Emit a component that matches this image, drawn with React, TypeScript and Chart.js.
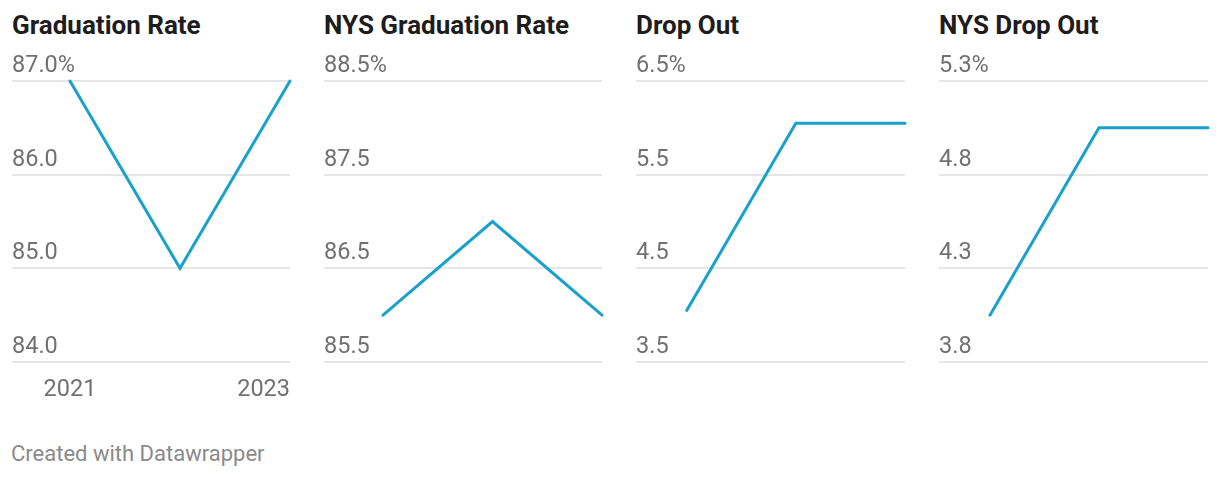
import React, { useEffect, useRef } from 'react';
import { Chart, registerables } from 'chart.js';

Chart.register(...registerables);

// ---- data ----
const years = [2021, 2022, 2023];
const yearTickValues = [2021, 2023];
const yearTickLabels = ['2021', '2023'];

const titles = ['Graduation Rate', 'NYS Graduation Rate', 'Drop Out', 'NYS Drop Out'];

const gradRate = [87.0, 85.0, 87.0];
const nysGradRate = [86.0, 87.0, 86.0];
const dropOut = [4.05, 6.05, 6.05];
const nysDropOut = [4.0, 5.0, 5.0];

const gradTicks = [84, 85, 86, 87];
const gradTickLabels = ['84.0', '85.0', '86.0', '87.0%'];
const nysGradTicks = [85.5, 86.5, 87.5, 88.5];
const nysGradTickLabels = ['85.5', '86.5', '87.5', '88.5%'];
const dropTicks = [3.5, 4.5, 5.5, 6.5];
const dropTickLabels = ['3.5', '4.5', '5.5', '6.5%'];
const nysDropTicks = [3.75, 4.25, 4.75, 5.25];
const nysDropTickLabels = ['3.8', '4.3', '4.8', '5.3%'];

const footerText = 'Created with Datawrapper';

// ---- layout / style ----
const LINE_COLOR = '#18a1cd';
const TICK_COLOR = '#717171';
const GRID_COLOR = '#e6e6e6';
const FONT = 'Roboto, "Noto Sans", sans-serif';
const TICK_SIZE = 23.5;
const CANVAS_TOP = 40;
const CANVAS_H = 370;

type PanelProps = {
  title: string;
  values: number[];
  ticks: number[];
  tickLabels: string[];
  left: number;
  width: number;
  xPad: number;
  showYears: boolean;
};

function Panel({ title, values, ticks, tickLabels, left, width, xPad, showYears }: PanelProps) {
  const ref = useRef<HTMLCanvasElement>(null);

  useEffect(() => {
    if (!ref.current) return;
    const yearPlugin = {
      id: 'yearLabels',
      afterDraw(chart: any) {
        if (!showYears) return;
        const ctx = chart.ctx;
        const xs = chart.scales.x;
        ctx.save();
        ctx.font = `${TICK_SIZE}px ${FONT}`;
        ctx.fillStyle = TICK_COLOR;
        ctx.textBaseline = 'alphabetic';
        yearTickValues.forEach((v, i) => {
          const last = i === yearTickValues.length - 1;
          ctx.textAlign = last ? 'right' : 'center';
          ctx.fillText(yearTickLabels[i], xs.getPixelForValue(v), chart.chartArea.bottom + 34);
        });
        ctx.restore();
      },
    };

    const chart = new Chart(ref.current, {
      type: 'line',
      data: {
        datasets: [
          {
            data: years.map((y, i) => ({ x: y, y: values[i] })),
            borderColor: LINE_COLOR,
            borderWidth: 3,
            pointRadius: 0,
            pointHoverRadius: 0,
            tension: 0,
            clip: false as any,
            borderCapStyle: 'round',
            borderJoinStyle: 'miter',
          },
        ],
      },
      options: {
        animation: false,
        responsive: false,
        events: [],
        layout: { padding: { top: 41, bottom: 48, left: 0, right: 4 } },
        plugins: { legend: { display: false }, tooltip: { enabled: false }, title: { display: false } },
        scales: {
          x: {
            type: 'linear',
            display: false,
            min: years[0] - xPad,
            max: years[years.length - 1],
          },
          y: {
            type: 'linear',
            min: ticks[0],
            max: ticks[ticks.length - 1],
            border: { display: false },
            grid: { color: GRID_COLOR, lineWidth: 2, drawTicks: false },
            afterBuildTicks: (s: any) => {
              s.ticks = ticks.map((v) => ({ value: v }));
            },
            ticks: {
              mirror: true,
              padding: 0,
              labelOffset: -15,
              color: TICK_COLOR,
              font: { family: FONT, size: TICK_SIZE },
              callback: (_v: any, i: number) => tickLabels[i],
            },
          },
        },
      } as any,
      plugins: [yearPlugin],
    });
    return () => chart.destroy();
  }, []);

  return (
    <>
      <div
        style={{
          position: 'absolute',
          left,
          top: 12,
          font: `bold 26px/26px ${FONT}`,
          color: '#1d1d1d',
          whiteSpace: 'nowrap',
        }}
      >
        {title}
      </div>
      <canvas
        ref={ref}
        width={width + 4}
        height={CANVAS_H}
        style={{ position: 'absolute', left, top: CANVAS_TOP, width: width + 4, height: CANVAS_H }}
      />
    </>
  );
}

export default function App() {
  const panels = [
    { values: gradRate, ticks: gradTicks, tickLabels: gradTickLabels, left: 12, width: 278, xPad: 0.527, showYears: true },
    { values: nysGradRate, ticks: nysGradTicks, tickLabels: nysGradTickLabels, left: 324, width: 278, xPad: 0.539, showYears: false },
    { values: dropOut, ticks: dropTicks, tickLabels: dropTickLabels, left: 636, width: 269, xPad: 0.464, showYears: false },
    { values: nysDropOut, ticks: nysDropTicks, tickLabels: nysDropTickLabels, left: 939, width: 269, xPad: 0.467, showYears: false },
  ];
  return (
    <div style={{ position: 'relative', width: 1220, height: 478, background: '#fff', overflow: 'hidden' }}>
      <style>{'body{margin:0;background:#fff}'}</style>
      {panels.map((p, i) => (
        <Panel key={i} title={titles[i]} {...p} />
      ))}
      <div
        style={{
          position: 'absolute',
          left: 11,
          top: 443,
          font: `22px/22px ${FONT}`,
          color: '#8a8a8a',
          whiteSpace: 'nowrap',
        }}
      >
        {footerText}
      </div>
    </div>
  );
}
